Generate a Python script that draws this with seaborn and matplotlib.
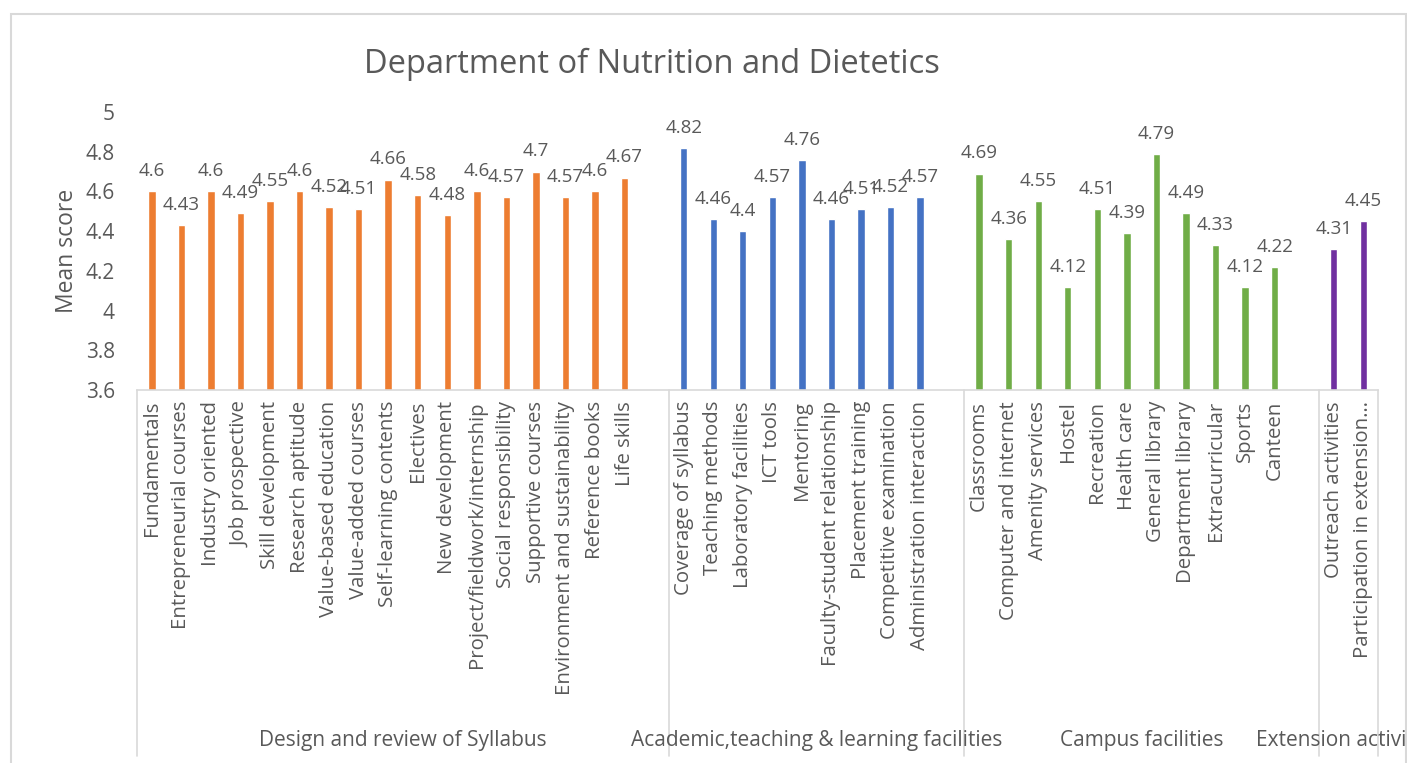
import matplotlib.pyplot as plt
import matplotlib.transforms as mtransforms
from matplotlib.patches import Rectangle
import numpy as np
import pandas as pd
import seaborn as sns

sns.set_style("white")
plt.rcParams["font.family"] = ["Open Sans", "DejaVu Sans"]

syllabus_items = ["Fundamentals", "Entrepreneurial courses", "Industry oriented", "Job prospective",
                  "Skill development", "Research aptitude", "Value-based education", "Value-added courses",
                  "Self-learning contents", "Electives", "New development", "Project/fieldwork/internship",
                  "Social responsibility", "Supportive courses", "Environment and sustainability",
                  "Reference books", "Life skills"]
syllabus_scores = [4.6, 4.43, 4.6, 4.49, 4.55, 4.6, 4.52, 4.51, 4.66, 4.58, 4.48, 4.6, 4.57, 4.7, 4.57, 4.6, 4.67]

academic_items = ["Coverage of syllabus", "Teaching methods", "Laboratory facilities", "ICT tools", "Mentoring",
                  "Faculty-student relationship", "Placement training", "Competitive examination",
                  "Administration interaction"]
academic_scores = [4.82, 4.46, 4.4, 4.57, 4.76, 4.46, 4.51, 4.52, 4.57]

campus_items = ["Classrooms", "Computer and internet", "Amenity services", "Hostel", "Recreation", "Health care",
                "General library", "Department library", "Extracurricular", "Sports", "Canteen"]
campus_scores = [4.69, 4.36, 4.55, 4.12, 4.51, 4.39, 4.79, 4.49, 4.33, 4.12, 4.22]

extension_items = ["Outreach activities", "Participation in extension\u2026"]
extension_scores = [4.31, 4.45]

groups = ["Design and review of Syllabus", "Academic,teaching & learning facilities",
          "Campus facilities", "Extension activities"]
colors = ["#ED7D31", "#4472C4", "#70AD47", "#7030A0"]

group_items = [syllabus_items, academic_items, campus_items, extension_items]
group_scores = [syllabus_scores, academic_scores, campus_scores, extension_scores]

rows = []
order = []
group_slots = []
for gi, (g, items, scores) in enumerate(zip(groups, group_items, group_scores)):
    for it, sc in zip(items, scores):
        rows.append([g, it, sc])
        order.append(it)
    n = len(items)
    if gi < len(groups) - 1:
        order.append(" " * (gi + 1))  # empty slot between groups
        n += 1
    group_slots.append(n)
df = pd.DataFrame(rows, columns=["group", "item", "score"])

fig = plt.figure(figsize=(14.07, 7.63), dpi=100)
ax = fig.add_axes([0.0974, 0.4889, 0.882, 0.3643])

sns.barplot(data=df, x="item", y="score", hue="group", order=order, hue_order=groups,
            palette=dict(zip(groups, colors)), dodge=False, width=0.25, legend=False,
            saturation=1, ax=ax)

txt = "#595959"
for c in ax.containers:
    ax.bar_label(c, fmt="{:g}", padding=8, fontsize=13.5, color=txt)

ax.set_xlim(-0.5, len(order) - 0.5)
ax.set_ylim(3.6, 5.0)
ax.set_yticks(np.arange(3.6, 5.01, 0.2))
ax.set_yticklabels(["%g" % round(t, 1) for t in np.arange(3.6, 5.01, 0.2)])
ax.tick_params(axis="y", length=0, pad=16, labelsize=15, labelcolor=txt)
ax.tick_params(axis="x", length=0, pad=8, labelsize=14.7, labelcolor=txt, rotation=90)
ax.set_xlabel("")
ax.set_ylabel("Mean score", fontsize=16.5, color=txt, labelpad=5)
for s in ["top", "right", "left"]:
    ax.spines[s].set_visible(False)
ax.spines["bottom"].set_color("#D9D9D9")
ax.spines["bottom"].set_linewidth(1.2)

# group separators and group labels below the axis
trans = mtransforms.blended_transform_factory(ax.transData, ax.transAxes)
edges = np.concatenate([[0], np.cumsum(group_slots)]) - 0.5
for e in edges:
    ax.plot([e, e], [0, -1.317], transform=trans, color="#D9D9D9", lw=1.2, clip_on=False)
for gi, g in enumerate(groups):
    ax.text((edges[gi] + edges[gi + 1]) / 2, -1.26, g, transform=trans, ha="center", va="center",
            fontsize=15, color=txt)

fig.text(0.463, 0.916, "Department of Nutrition and Dietetics", ha="center", va="center",
         fontsize=23.5, color=txt)

fig.patches.append(Rectangle((11 / 1407, -0.05), 1395 / 1407, 1.05 - 14 / 763, transform=fig.transFigure,
                             fill=False, edgecolor="#D9D9D9", lw=1.5))

fig.savefig("out.png", dpi=100)
